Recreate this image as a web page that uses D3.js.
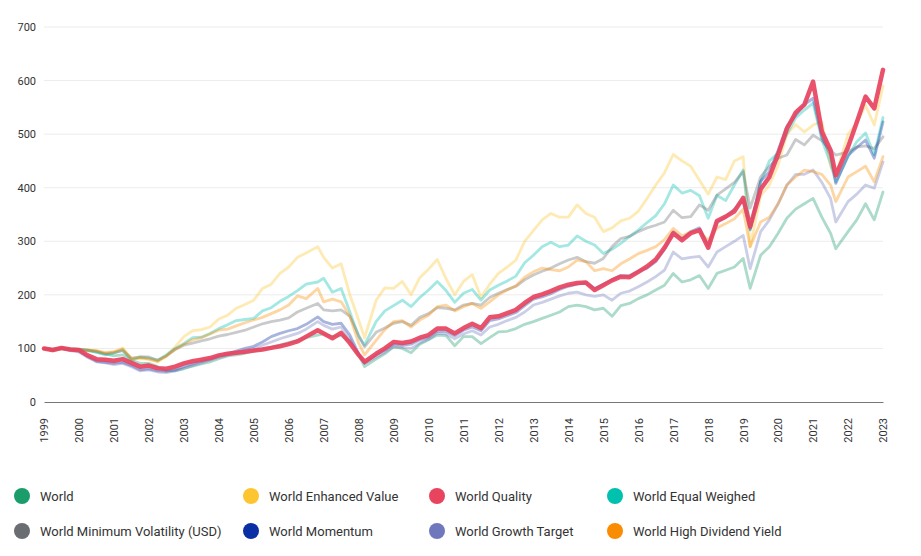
<!DOCTYPE html>
<html>
<head>
<meta charset="utf-8">
<script src="https://cdn.jsdelivr.net/npm/d3@7"></script>
<style>
  body { margin: 0; background: #fff; }
  svg { display: block; font-family: Roboto, "Noto Sans", sans-serif; }
</style>
</head>
<body>
<svg id="chart" width="921" height="556"></svg>
<script>
// Time positions (decimal years on the label axis), mostly quarterly
const dates = [
  1999, 1999.25, 1999.5, 1999.75, 2000, 2000.25, 2000.5, 2000.75,
  2001, 2001.25, 2001.5, 2001.75, 2002, 2002.25, 2002.5, 2002.75,
  2003, 2003.25, 2003.5, 2003.75, 2004, 2004.25, 2004.5, 2004.75,
  2005, 2005.25, 2005.5, 2005.75, 2006, 2006.25, 2006.5, 2006.83,
  2007, 2007.25, 2007.5, 2007.75, 2008, 2008.17, 2008.5, 2008.75,
  2009, 2009.25, 2009.5, 2009.75, 2010, 2010.25, 2010.5, 2010.75,
  2011, 2011.25, 2011.5, 2011.75, 2012, 2012.25, 2012.5, 2012.75,
  2013, 2013.25, 2013.5, 2013.75, 2014, 2014.25, 2014.5, 2014.75,
  2015, 2015.25, 2015.5, 2015.75, 2016, 2016.25, 2016.5, 2016.75,
  2017, 2017.25, 2017.5, 2017.75, 2018, 2018.25, 2018.5, 2018.75,
  2019, 2019.2, 2019.5, 2019.75, 2020, 2020.25, 2020.5, 2020.75,
  2021, 2021.25, 2021.5, 2021.65, 2022, 2022.25, 2022.5, 2022.75,
  2023
];

const world = [
  100,98,101,99, 98,96,93,90, 86,88,78,72, 72,66,58,58,
  62,67,71,75, 81,86,88,91, 95,99,102,106, 111,115,120,125,
  127,122,124,114, 88,66,80,90, 103,100,92,108, 116,125,124,105,
  122,122,109,120, 131,132,137,145, 150,156,162,168, 178,181,178,172,
  175,160,180,184, 193,200,209,218, 240,224,228,236, 212,240,246,252,
  268,212,274,290, 315,343,360,370, 380,345,315,286, 318,340,370,340,
  392
];
const enhancedValue = [
  100,95,99,98, 97,97,95,91, 93,101,80,81, 80,75,85,103,
  122,133,135,140, 155,162,175,182, 190,212,220,240, 252,270,278,290,
  270,250,258,200, 153,120,190,213, 212,225,200,232, 248,266,230,200,
  225,238,195,220, 240,252,265,300, 320,340,352,345, 345,368,352,345,
  318,325,338,343, 356,380,405,428, 462,450,440,414, 388,420,415,450,
  458,290,385,405, 442,500,518,504, 517,523,440,423, 500,520,554,517,
  590
];
const quality = [
  100,97,101,98, 97,87,80,79, 77,80,73,66, 68,63,62,66,
  72,76,79,82, 87,90,92,94, 96,98,101,104, 108,113,122,134,
  128,119,129,110, 88,75,90,100, 112,110,113,120, 125,137,137,128,
  138,146,138,158, 160,166,172,185, 196,201,207,214, 219,222,223,209,
  218,227,234,233, 243,253,266,288, 315,302,315,321, 288,338,346,356,
  381,327,397,420, 462,510,540,555, 598,505,470,423, 476,522,570,548,
  620
];
const equalWeighed = [
  100,97,100,98, 98,97,93,88, 91,97,78,84, 82,78,88,100,
  109,120,121,128, 137,144,152,154, 156,170,176,188, 197,208,220,224,
  231,205,212,168, 122,106,150,170, 180,190,178,195, 209,225,208,186,
  203,210,190,209, 218,226,235,260, 274,290,298,290, 293,310,300,293,
  277,285,296,309, 321,335,348,370, 405,390,395,385, 343,386,376,405,
  433,321,411,450, 464,500,530,545, 558,490,445,411, 458,486,502,461,
  531
];
const minVolatility = [
  100,98,100,99, 98,97,95,90, 92,96,82,84, 84,78,86,98,
  106,110,114,118, 123,126,130,134, 140,146,150,153, 157,168,175,184,
  172,170,172,160, 125,103,130,138, 147,150,143,158, 165,176,175,172,
  181,184,181,195, 203,210,216,228, 237,244,250,258, 265,270,262,259,
  268,290,305,309, 318,325,330,336, 358,344,346,368, 358,386,398,410,
  430,362,420,440, 455,461,490,480, 498,488,470,461, 467,476,478,473,
  495
];
const momentum = [
  100,97,100,97, 95,85,76,74, 72,74,68,60, 62,58,57,60,
  66,71,76,80, 86,90,95,100, 104,112,122,128, 133,137,145,159,
  150,145,147,125, 90,73,88,97, 108,106,108,116, 121,132,132,124,
  134,140,133,152, 155,161,167,180, 192,196,202,210, 216,220,223,212,
  220,228,236,236, 244,250,262,285, 318,305,318,325, 292,335,345,360,
  377,322,412,430, 470,515,535,555, 567,495,461,408, 460,475,489,455,
  523
];
const growthTarget = [
  100,96,99,96, 93,83,75,73, 70,72,66,58, 60,56,55,58,
  63,68,73,78, 83,87,92,96, 100,106,112,118, 123,128,136,150,
  143,136,140,118, 88,72,84,93, 103,102,100,110, 117,128,127,118,
  127,133,125,140, 145,152,158,168, 181,186,192,198, 203,205,200,197,
  200,190,203,207, 215,224,234,246, 280,267,270,272, 252,280,290,300,
  311,249,318,340, 370,405,425,425, 433,410,380,336, 374,388,405,399,
  448
];
const highDividend = [
  100,97,100,98, 97,97,96,92, 94,99,81,83, 80,76,86,98,
  108,116,120,127, 134,136,142,148, 153,158,165,172, 181,198,193,212,
  187,192,187,160, 110,88,115,135, 150,152,140,153, 162,178,181,170,
  178,184,175,187, 200,209,217,233, 243,250,247,245, 252,265,262,245,
  249,245,258,267, 277,283,290,303, 324,310,318,318, 302,325,333,342,
  360,290,336,345, 370,405,420,433, 430,425,405,374, 420,430,440,411,
  458
];

const seriesNames = [
  "World", "World Enhanced Value", "World Quality", "World Equal Weighed",
  "World Minimum Volatility (USD)", "World Momentum", "World Growth Target", "World High Dividend Yield"
];
const seriesValues = [world, enhancedValue, quality, equalWeighed, minVolatility, momentum, growthTarget, highDividend];
const seriesColors = ["#1a9c6b", "#fdc530", "#e8435f", "#00c0ae", "#6a6d72", "#0a2ea4", "#6f78bc", "#f98c00"];
const highlighted = "World Quality";

const yTicks = [0, 100, 200, 300, 400, 500, 600, 700];
const xTicks = d3.range(1999, 2024);

const svg = d3.select("#chart");
const x = d3.scaleLinear().domain([1999, 2023]).range([44, 883]);
const y = d3.scaleLinear().domain([0, 700]).range([402, 27]);

// gridlines
svg.append("g").selectAll("line").data(yTicks.filter(d => d > 0)).join("line")
  .attr("x1", x(1999)).attr("x2", x(2023))
  .attr("y1", d => y(d)).attr("y2", d => y(d))
  .attr("stroke", "#ececec").attr("stroke-width", 1);

// y axis labels
const yAxis = svg.append("g").attr("transform", "translate(36,0)")
  .call(d3.axisLeft(y).tickValues(yTicks).tickSize(0).tickPadding(0).tickFormat(d3.format("d")));
yAxis.select(".domain").remove();
yAxis.selectAll("text").attr("fill", "#333").style("font-size", "11px").style("font-family", "Roboto, sans-serif");

// x axis
const xAxis = svg.append("g").attr("transform", `translate(0,${y(0)})`)
  .call(d3.axisBottom(x).tickValues(xTicks).tickSize(0).tickFormat(d3.format("d")));
xAxis.select(".domain").attr("stroke", "#777").attr("stroke-width", 1);
xAxis.selectAll("text")
  .attr("transform", "rotate(-90)")
  .attr("x", -16).attr("y", 0).attr("dy", "0.35em")
  .style("text-anchor", "end")
  .attr("fill", "#333").style("font-size", "11px").style("font-family", "Roboto, sans-serif");

// lines
const line = d3.line()
  .defined(d => d[1] != null && !isNaN(d[1]))
  .x(d => x(d[0])).y(d => y(d[1]))
  .curve(d3.curveLinear);

const order = seriesNames.map((n, i) => i).sort((a, b) =>
  (seriesNames[a] === highlighted) - (seriesNames[b] === highlighted));

svg.append("g").selectAll("path").data(order).join("path")
  .attr("d", i => line(dates.map((t, k) => [t, seriesValues[i][k]])))
  .attr("fill", "none")
  .attr("stroke", i => seriesColors[i])
  .attr("stroke-width", i => seriesNames[i] === highlighted ? 4.5 : 2.8)
  .attr("stroke-opacity", i => seriesNames[i] === highlighted ? 0.92 : 0.36)
  .attr("stroke-linejoin", "round")
  .attr("stroke-linecap", "round");

// legend
const legendX = [22, 251, 437, 615];
const legendY = [496, 531];
const lg = svg.append("g").selectAll("g").data(seriesNames).join("g")
  .attr("transform", (d, i) => `translate(${legendX[i % 4]},${legendY[Math.floor(i / 4)]})`);
lg.append("circle").attr("r", 8).attr("fill", (d, i) => seriesColors[i]);
lg.append("text").attr("x", 18).attr("dy", "0.35em")
  .attr("fill", "#333").style("font-size", "13px")
  .text(d => d);
</script>
</body>
</html>
